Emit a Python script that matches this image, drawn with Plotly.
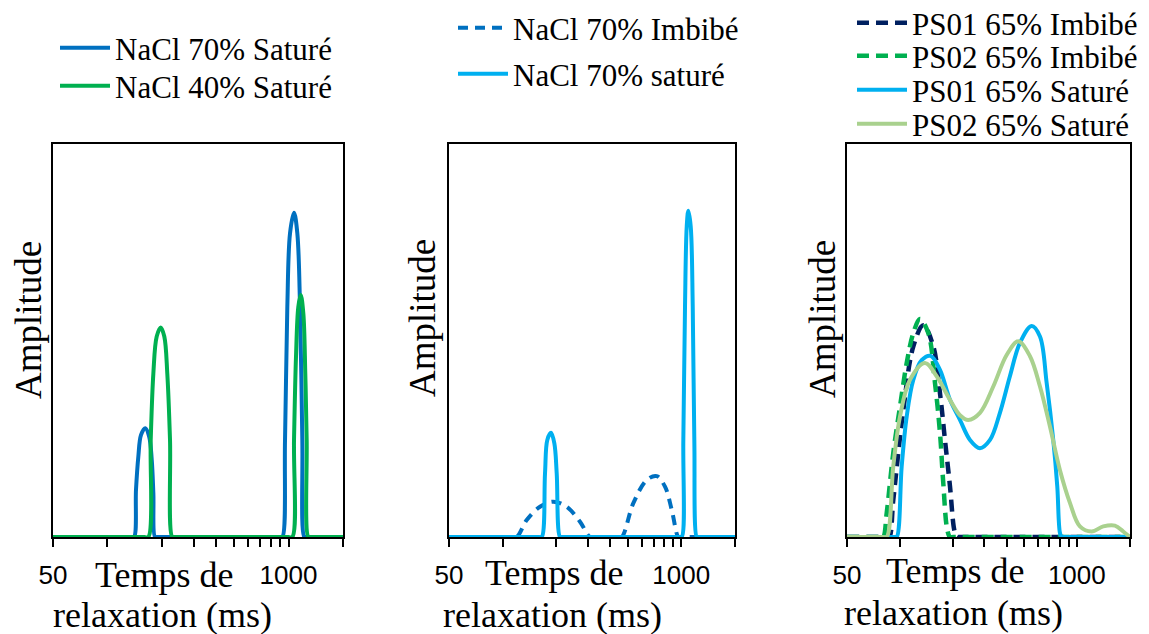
import math
import plotly.graph_objects as go

W, H = 1149, 634

# ---------------- data (relaxation time in ms, amplitude in arbitrary units) ----------------
# Panel 1
p1_nacl70_sat_t = [50, 135, 140.1, 143.7, 148.0, 153.2, 161.8, 170.2, 175.6, 179.2, 183.0, 188,
                   900, 924.6, 956.6, 985, 1019.6, 1072.6, 1118.6, 1157.7, 1192, 1223, 1250, 2000]
p1_nacl70_sat_a = [0, 0, 0, 12.0, 20.4, 26.0, 27.7, 25.4, 19.6, 11.2, 0, 0,
                   0, 0, 24.7, 58.6, 77.3, 82.5, 77.3, 58.6, 24.7, 0, 0, 0]
p1_nacl40_sat_t = [50, 160, 168.1, 173.3, 179.2, 187, 196.8, 206, 214, 221.5, 228, 235,
                   1000, 1049.5, 1072.6, 1100, 1133, 1168, 1207.6, 1238, 1260, 1286.6, 1320, 2000]
p1_nacl40_sat_a = [0, 0, 0, 24.7, 41.6, 51, 53.3, 51, 41.6, 24.7, 0, 0,
                   0, 0, 24.7, 45.9, 58.6, 61.6, 56.9, 41.6, 24.7, 0, 0, 0]

# Panel 2
p2_nacl70_imb_t = [50, 110, 119.7, 136.2, 161.7, 192, 228, 270.9, 308, 330,
                   440, 464, 539, 640.5, 728.7, 811, 884.5, 963, 990, 2000]
p2_nacl70_imb_a = [0, 0, 0, 4.3, 7.7, 9.0, 7.7, 3.9, 0, 0,
                   0, 0, 8.6, 14.5, 15.5, 12.8, 6.9, 0, 0, 0]
p2_nacl70_sat_t = [50, 160, 165.4, 172.5, 177.7, 186.4, 194.6, 200.6, 209.4, 215,
                   980, 1006, 1027, 1049.6, 1073, 1095.5, 1129.6, 1159.6, 1183.6, 1221, 1240, 2000]
p2_nacl70_sat_a = [0, 0, 0, 16.2, 24.7, 26.5, 23.8, 16.2, 0, 0,
                   0, 0, 24.7, 58.6, 79, 83, 79, 58.6, 24.7, 0, 0, 0]

# Panel 3
p3_ps01_imb_t = [50, 84, 86.8, 91.4, 104.2, 118.7, 135.2, 154, 168, 179.3, 191.4, 202.4, 208.8, 215, 2000]
p3_ps01_imb_a = [0, 0, 0, 9.4, 32.3, 48.5, 53.9, 48.5, 36.6, 24.7, 12.9, 1.8, 0, 0, 0]
p3_ps02_imb_t = [50, 78, 80.3, 83.9, 91.4, 99.8, 108.9, 118.7, 129.4, 144.3, 157.4, 168, 175.4,
                 184.8, 191.4, 200, 2000]
p3_ps02_imb_a = [0, 0, 0, 6.1, 21.4, 33.2, 44.3, 51.9, 55.5, 51.9, 39.2, 26.5, 13.7, 1.8, 0, 0, 0]
p3_ps01_sat_t = [50, 93, 95.6, 102, 108.9, 118.7, 132.3, 148.8, 168, 191.4, 218, 248.4, 282.9,
                 322.4, 367, 418, 476.5, 555, 618.6, 675, 735.5, 775, 802.7, 820.6, 840, 2000]
p3_ps01_sat_a = [0, 0, 0, 18, 30.7, 40, 45, 46.1, 42.5, 34.9, 29.8, 24.7, 22.6,
                 24.7, 31.6, 40.9, 49.4, 53.7, 51, 39.2, 24.7, 12.9, 1, 0, 0, 0]
p3_ps02_sat_t = [50, 80, 83.9, 91.4, 99.8, 113.6, 138.2, 160.9, 191.4, 218, 243, 282.9, 336.5,
                 400.6, 466, 543, 618.6, 704.6, 802.7, 914, 1041, 1213, 1411, 1643, 1831, 2000]
p3_ps02_sat_a = [0, 0, 0, 18, 30.7, 40, 44.3, 40.9, 34.9, 31, 29.8, 31.6, 38.3,
                 46.3, 49.8, 46, 38.3, 28.1, 17, 8.7, 2.7, 1.4, 2.7, 2.9, 1.4, 0]

tick_vals = [50, 100, 200, 300, 400, 500, 600, 700, 800, 900, 1000, 2000]
tick_text = ["50", "", "", "", "", "", "", "", "", "", "1000", ""]
x_min, x_max = 50, 2000
y_range = [0, 100]
x_title_1 = "Temps de"
x_title_2 = "relaxation (ms)"
y_title = "Amplitude"

# ---------------- colours ----------------
C_BLUE = "#0070C0"
C_GREEN = "#00B050"
C_CYAN = "#00B0F0"
C_NAVY = "#002060"
C_LGREEN = "#A9D18E"

SERIF = "Liberation Serif"
SANS = "Liberation Sans"

def fx(px):
    return px / W

def fy(py):
    return 1 - py / H

panels = [(53, 343), (449, 735), (847, 1130)]
TOP, BOT = 144, 537

fig = go.Figure()

def add(t, a, name, color, width, dash, k, legend):
    sfx = "" if k == 1 else str(k)
    fig.add_trace(go.Scatter(
        x=t, y=a, mode="lines", name=name, showlegend=True,
        line=dict(color=color, width=width, dash=dash, shape="spline", smoothing=1.0),
        xaxis="x" + sfx, yaxis="y" + sfx, legend=legend, hoverinfo="skip"))

add(p1_nacl70_sat_t, p1_nacl70_sat_a, "NaCl 70% Saturé", C_BLUE, 4, "solid", 1, "legend")
add(p1_nacl40_sat_t, p1_nacl40_sat_a, "NaCl 40% Saturé", C_GREEN, 4, "solid", 1, "legend2")
add(p2_nacl70_imb_t, p2_nacl70_imb_a, "NaCl 70% Imbibé", C_BLUE, 4, "10px,7px", 2, "legend3")
add(p2_nacl70_sat_t, p2_nacl70_sat_a, "NaCl 70% saturé", C_CYAN, 4, "solid", 2, "legend4")
add(p3_ps01_imb_t, p3_ps01_imb_a, "PS01 65% Imbibé", C_NAVY, 4.5, "12px,7px", 3, "legend5")
add(p3_ps02_imb_t, p3_ps02_imb_a, "PS02 65% Imbibé", C_GREEN, 4.5, "12px,7px", 3, "legend6")
add(p3_ps01_sat_t, p3_ps01_sat_a, "PS01 65% Saturé", C_CYAN, 4, "solid", 3, "legend7")
add(p3_ps02_sat_t, p3_ps02_sat_a, "PS02 65% Saturé", C_LGREEN, 4, "solid", 3, "legend8")

xr = [math.log10(x_min), math.log10(x_max)]

layout = dict(
    width=W, height=H, margin=dict(l=0, r=0, t=0, b=0, autoexpand=False),
    paper_bgcolor="white", plot_bgcolor="white", showlegend=True,
    font=dict(family=SERIF, color="black"),
    annotations=[],
)

for i, (l, r) in enumerate(panels):
    k = i + 1
    sfx = "" if k == 1 else str(k)
    layout["xaxis" + sfx] = dict(
        domain=[fx(l), fx(r)], anchor="y" + sfx, type="log", range=xr,
        tickmode="array", tickvals=tick_vals, ticktext=tick_text,
        ticks="outside", ticklen=8, tickwidth=2, tickcolor="black",
        tickfont=dict(family=SANS, size=26, color="black"), ticklabelstandoff=6,
        showline=True, linecolor="black", linewidth=2, mirror=True,
        showgrid=False, zeroline=False, automargin=False,
    )
    layout["yaxis" + sfx] = dict(
        domain=[fy(BOT), fy(TOP)], anchor="x" + sfx, range=y_range,
        showticklabels=False, ticks="", showline=True, linecolor="black",
        linewidth=2, mirror=True, showgrid=False, zeroline=False, automargin=False,
    )
    # crossing tick at 1000
    ov = str(k + 3)
    layout["xaxis" + ov] = dict(
        overlaying="x" + sfx, anchor="y" + sfx, type="log", range=xr,
        tickmode="array", tickvals=[1000], ticks="inside", ticklen=11,
        tickwidth=2, tickcolor="black", showticklabels=False,
        showline=False, showgrid=False, zeroline=False, side="bottom", automargin=False,
    )

# axis titles
xt_centres = [(164, 575, 162, 615), (554, 573, 552, 615), (955, 571, 953, 613)]
yt_centres = [(28, 320), (422, 318), (822, 319)]
for (x1, y1, x2, y2) in xt_centres:
    layout["annotations"].append(dict(text=x_title_1, x=fx(x1), y=fy(y1), xref="paper", yref="paper",
                                      xanchor="center", yanchor="middle", showarrow=False,
                                      font=dict(family=SERIF, size=36, color="black")))
    layout["annotations"].append(dict(text=x_title_2, x=fx(x2), y=fy(y2), xref="paper", yref="paper",
                                      xanchor="center", yanchor="middle", showarrow=False,
                                      font=dict(family=SERIF, size=36, color="black")))
for (xc, yc) in yt_centres:
    layout["annotations"].append(dict(text=y_title, x=fx(xc), y=fy(yc), xref="paper", yref="paper",
                                      xanchor="center", yanchor="middle", showarrow=False, textangle=-90,
                                      font=dict(family=SERIF, size=37, color="black")))

# legends (one per entry)
ITEM_W = 50
leg_pos = [(115, 48), (115, 86), (513, 28), (513, 74), (912, 23), (912, 56), (912, 90), (912, 124)]
for j, (tx, cy) in enumerate(leg_pos):
    key = "legend" if j == 0 else "legend%d" % (j + 1)
    layout[key] = dict(x=fx(tx - (ITEM_W + 10)), y=fy(cy), xanchor="left", yanchor="middle",
                       bgcolor="rgba(0,0,0,0)", borderwidth=0, itemwidth=ITEM_W,
                       font=dict(family=SERIF, size=31, color="black"))

fig.update_layout(**layout)
fig.write_html("out.html", config={"displayModeBar": False},
               post_script="document.body.style.margin='0px';document.body.style.padding='0px';")
